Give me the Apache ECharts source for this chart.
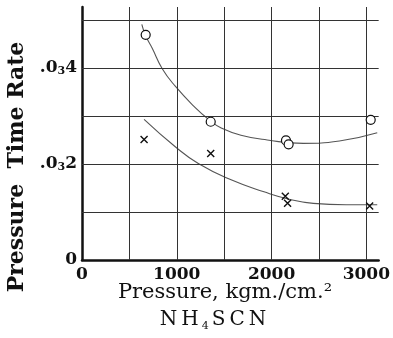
<!DOCTYPE html>
<html>
<head>
<meta charset="utf-8">
<script src="https://cdn.jsdelivr.net/npm/echarts@6/dist/echarts.min.js"></script>
<style>
  html, body { margin: 0; padding: 0; background: #fff; }
  #chart { width: 393px; height: 338px; }
</style>
</head>
<body>
<div id="chart"></div>
<script>
// measured points (pressure kgm/cm2, time rate)
const circleX = [672, 1358, 2152, 2180, 3046];
const circleY = [0.000469, 0.000288, 0.000249, 0.000241, 0.000292];
const crossX = [655, 1358, 2145, 2169, 3035];
const crossY = [0.000251, 0.000222, 0.000133, 0.000118, 0.0001125];

// fitted curves as drawn
const upperCurveX = [631, 672, 741, 845, 984, 1192, 1348, 1469, 1677, 1954, 2335, 2716, 3115];
const upperCurveY = [0.000491, 0.000467, 0.000441, 0.000399, 0.000362, 0.000318, 0.000291, 0.000275, 0.000260, 0.000250, 0.000243, 0.000248, 0.000265];
const lowerCurveX = [655, 984, 1227, 1573, 1920, 2196, 2440, 2786, 3115];
const lowerCurveY = [0.000293, 0.000236, 0.000201, 0.000167, 0.000142, 0.000126, 0.000118, 0.000115, 0.000115];

// grid lines
const xGridValues = [500, 1000, 1500, 2000, 2500, 3000];
const yGridValues = [0.0001, 0.0002, 0.0003, 0.0004, 0.0005];

const X_MAX = 3130;
const Y_MAX = 0.000527;

const zip = (xs, ys) => xs.map((x, i) => [x, ys[i]]);
const serif = '"DejaVu Serif", "Liberation Serif", serif';

const chart = echarts.init(document.getElementById('chart'));
chart.setOption({
  animation: false,
  backgroundColor: '#fff',
  grid: { left: 82, right: 10, top: 7, bottom: 78 },
  xAxis: {
    type: 'value',
    min: 0,
    max: X_MAX,
    interval: 1000,
    axisLine: { lineStyle: { color: '#111', width: 2.5 } },
    axisTick: { show: false },
    splitLine: { show: false },
    axisLabel: {
      margin: 6,
      color: '#111',
      fontFamily: serif,
      fontWeight: 'bold',
      fontSize: 17,
      formatter: (v) => (v % 1000 === 0 ? String(v) : '')
    }
  },
  yAxis: {
    type: 'value',
    min: 0,
    max: Y_MAX,
    interval: 0.0001,
    axisLine: { lineStyle: { color: '#111', width: 2.5 } },
    axisTick: { show: false },
    splitLine: { show: false },
    axisLabel: {
      margin: 5,
      color: '#111',
      fontFamily: serif,
      fontWeight: 'bold',
      fontSize: 17,
      formatter: (v) => {
        const k = Math.round(v * 1e4);
        if (v === 0) return '0';
        if ((k === 2 || k === 4) && Math.abs(v * 1e4 - k) < 1e-6) return '.0{s|3}' + k;
        return '';
      },
      rich: {
        s: { fontSize: 11, fontFamily: serif, fontWeight: 'bold', color: '#111', padding: [6, 0, 0, 0] }
      }
    }
  },
  graphic: [
    {
      type: 'text',
      x: 17,
      y: 167,
      rotation: Math.PI / 2,
      style: {
        text: 'Pressure  Time Rate',
        fontFamily: serif,
        fontWeight: 'bold',
        fontSize: 22,
        fill: '#111',
        align: 'center',
        verticalAlign: 'middle'
      }
    },
    {
      type: 'text',
      x: 225,
      y: 293,
      style: {
        text: 'Pressure, kgm./cm.²',
        fontFamily: serif,
        fontSize: 21,
        fill: '#111',
        align: 'center',
        verticalAlign: 'middle'
      }
    },
    {
      type: 'text',
      x: 213,
      y: 320,
      style: {
        text: '{a|N}{a|H}{b|4}{a|S}{a|C}{a|N}',
        fontFamily: serif,
        fontSize: 20,
        fill: '#111',
        align: 'center',
        verticalAlign: 'middle',
        rich: {
          a: { fontFamily: serif, fontSize: 20, fill: '#111', padding: [0, 2] },
          b: { fontFamily: serif, fontSize: 11, fill: '#111', padding: [12, 1, 0, 1] }
        }
      }
    }
  ],
  series: [
    {
      type: 'line',
      data: zip(upperCurveX, upperCurveY),
      smooth: true,
      showSymbol: false,
      lineStyle: { color: '#555', width: 1.1 },
      silent: true,
      z: 3
    },
    {
      type: 'line',
      data: zip(lowerCurveX, lowerCurveY),
      smooth: true,
      showSymbol: false,
      lineStyle: { color: '#555', width: 1.1 },
      silent: true,
      z: 3
    },
    {
      type: 'scatter',
      data: zip(circleX, circleY),
      symbol: 'circle',
      symbolSize: 9,
      itemStyle: { color: '#fff', borderColor: '#111', borderWidth: 1.2, opacity: 1 },
      z: 5,
      markLine: {
        silent: true,
        symbol: ['none', 'none'],
        label: { show: false },
        lineStyle: { color: '#333', width: 1, type: 'solid' },
        data: [
          ...xGridValues.map((v) => [{ coord: [v, 0] }, { coord: [v, Y_MAX] }]),
          ...yGridValues.map((v) => [{ coord: [0, v] }, { coord: [X_MAX, v] }])
        ]
      }
    },
    {
      type: 'scatter',
      data: zip(crossX, crossY),
      symbol: 'path://M0,0L10,10M10,0L0,10',
      symbolSize: 7,
      itemStyle: { color: 'transparent', borderColor: '#111', borderWidth: 1.4, opacity: 1 },
      z: 5
    }
  ]
});
</script>
</body>
</html>
